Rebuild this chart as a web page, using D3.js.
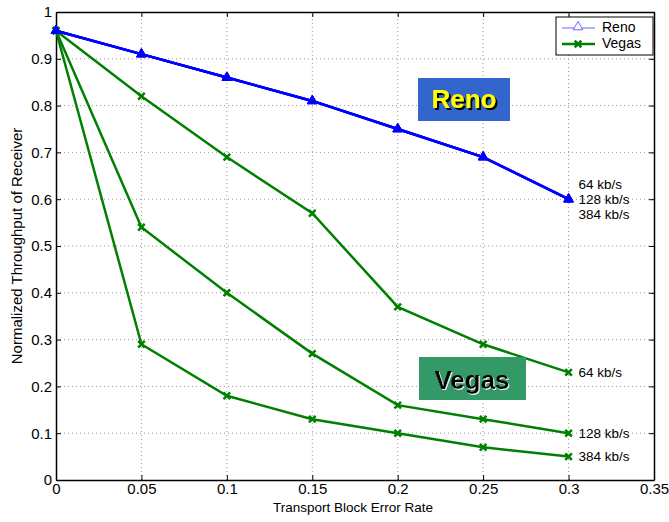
<!DOCTYPE html>
<html><head><meta charset="utf-8">
<script src="https://cdn.jsdelivr.net/npm/d3@7"></script>
<style>body{margin:0;background:#fff}svg{display:block}text{font-family:Arial,"Liberation Sans",sans-serif}</style>
</head><body>
<script>
const xValues = [0, 0.05, 0.1, 0.15, 0.2, 0.25, 0.3];
const reno64 = [0.96, 0.91, 0.86, 0.81, 0.75, 0.69, 0.60];
const reno128 = [0.96, 0.91, 0.86, 0.81, 0.75, 0.69, 0.60];
const reno384 = [0.96, 0.91, 0.86, 0.81, 0.75, 0.69, 0.60];
const vegas64 = [0.96, 0.82, 0.69, 0.57, 0.37, 0.29, 0.23];
const vegas128 = [0.96, 0.54, 0.40, 0.27, 0.16, 0.13, 0.10];
const vegas384 = [0.96, 0.29, 0.18, 0.13, 0.10, 0.07, 0.05];
const xTicks = [0, 0.05, 0.1, 0.15, 0.2, 0.25, 0.3, 0.35];
const yTicks = [0, 0.1, 0.2, 0.3, 0.4, 0.5, 0.6, 0.7, 0.8, 0.9, 1];
const rateLabels = ["64 kb/s", "128 kb/s", "384 kb/s"];

const W = 669, H = 522;
const m = {left: 56, right: 15, top: 12, bottom: 42};
const svg = d3.select("body").append("svg").attr("width", W).attr("height", H);
const defs = svg.append("defs");
defs.append("filter").attr("id", "shadow").attr("x", "-10%").attr("y", "-10%").attr("width", "130%").attr("height", "130%")
  .append("feDropShadow").attr("dx", 2).attr("dy", 2).attr("stdDeviation", 0.3).attr("flood-color", "#000").attr("flood-opacity", 1);
defs.append("filter").attr("id", "shadowW").attr("x", "-10%").attr("y", "-10%").attr("width", "130%").attr("height", "130%")
  .append("feDropShadow").attr("dx", 1).attr("dy", 1).attr("stdDeviation", 0.3).attr("flood-color", "#fff").attr("flood-opacity", 0.9);

const x = d3.scaleLinear().domain([0, 0.35]).range([m.left, W - m.right]);
const y = d3.scaleLinear().domain([0, 1]).range([H - m.bottom, m.top]);

// grid
const g = svg.append("g");
g.selectAll(".gx").data(xTicks.slice(1, -1)).enter().append("line")
  .attr("x1", d => x(d)).attr("x2", d => x(d)).attr("y1", y(0)).attr("y2", y(1))
  .attr("stroke", "#999").attr("stroke-dasharray", "1,3");
g.selectAll(".gy").data(yTicks.slice(1, -1)).enter().append("line")
  .attr("y1", d => y(d)).attr("y2", d => y(d)).attr("x1", x(0)).attr("x2", x(0.35))
  .attr("stroke", "#999").attr("stroke-dasharray", "1,3");

// axes
const fmt = d => d3.format("~g")(d);
const ax = svg.append("g").attr("transform", `translate(0,${y(0)})`)
  .call(d3.axisBottom(x).tickValues(xTicks).tickFormat(fmt).tickSizeInner(-5).tickSizeOuter(0).tickPadding(3));
const ay = svg.append("g").attr("transform", `translate(${x(0)},0)`)
  .call(d3.axisLeft(y).tickValues(yTicks).tickFormat(fmt).tickSizeInner(-5).tickSizeOuter(0).tickPadding(4));
const axTop = svg.append("g").attr("transform", `translate(0,${y(1)})`)
  .call(d3.axisTop(x).tickValues(xTicks).tickFormat("").tickSizeInner(-5).tickSizeOuter(0));
const ayR = svg.append("g").attr("transform", `translate(${x(0.35)},0)`)
  .call(d3.axisRight(y).tickValues(yTicks).tickFormat("").tickSizeInner(-5).tickSizeOuter(0));
[ax, ay, axTop, ayR].forEach(a => {
  a.selectAll("path").attr("stroke", "#000").attr("stroke-width", 1.5);
  a.selectAll("line").attr("stroke", "#000");
  a.selectAll("text").attr("font-size", 15).attr("fill", "#000");
});

svg.append("text").attr("x", 353).attr("y", 512)
  .attr("text-anchor", "middle").attr("font-size", 13.5).text("Transport Block Error Rate");
svg.append("text").attr("transform", `translate(22,${(y(0) + y(1)) / 2}) rotate(-90)`)
  .attr("text-anchor", "middle").attr("font-size", 15).text("Normalized Throughput of Receiver");

const line = d3.line().x((d, i) => x(xValues[i])).y(d => y(d));
const blue = "#0000ff", green = "#008000";

function drawVegas(vals) {
  svg.append("path").datum(vals).attr("d", line).attr("fill", "none")
    .attr("stroke", green).attr("stroke-width", 2.5);
  svg.append("g").selectAll("path").data(vals).enter().append("path")
    .attr("d", d3.symbol(d3.symbolX, 30)())
    .attr("transform", (d, i) => `translate(${x(xValues[i])},${y(d)})`)
    .attr("fill", "none").attr("stroke", green).attr("stroke-width", 2.5);
}
function drawReno(vals) {
  svg.append("path").datum(vals).attr("d", line).attr("fill", "none")
    .attr("stroke", blue).attr("stroke-width", 2.5);
  svg.append("g").selectAll("path").data(vals).enter().append("path")
    .attr("d", d3.symbol(d3.symbolTriangle, 40)())
    .attr("transform", (d, i) => `translate(${x(xValues[i])},${y(d)})`)
    .attr("fill", blue).attr("stroke", blue).attr("stroke-width", 1);
}
[vegas64, vegas128, vegas384].forEach(drawVegas);
[reno64, reno128, reno384].forEach(drawReno);

// rate labels
const lastX = xValues[xValues.length - 1];
rateLabels.forEach((t, i) => {
  svg.append("text").attr("x", x(lastX) + 10).attr("y", y(reno64[6]) - 14 + i * 15)
    .attr("font-size", 13.5).attr("dominant-baseline", "middle").text(t);
});
[vegas64, vegas128, vegas384].forEach((v, i) => {
  svg.append("text").attr("x", x(lastX) + 10).attr("y", y(v[6]) + 1)
    .attr("font-size", 13.5).attr("dominant-baseline", "middle").text(rateLabels[i]);
});

// Reno / Vegas labels
svg.append("rect").attr("x", 418).attr("y", 78).attr("width", 92).attr("height", 43).attr("fill", "#3366cc");
svg.append("text").attr("x", 464).attr("y", 108).attr("text-anchor", "middle").attr("filter", "url(#shadow)")
  .attr("font-size", 26).attr("font-weight", "bold").attr("fill", "#ffff00").text("Reno");
svg.append("rect").attr("x", 419).attr("y", 357).attr("width", 107).attr("height", 43).attr("fill", "#339966");
svg.append("text").attr("x", 472).attr("y", 389).attr("text-anchor", "middle").attr("filter", "url(#shadowW)")
  .attr("font-size", 26).attr("font-weight", "bold").attr("fill", "#000").text("Vegas");

// legend
const lg = svg.append("g").attr("transform", "translate(556,17)");
lg.append("rect").attr("width", 97).attr("height", 38).attr("fill", "#fff").attr("stroke", "#000");
lg.append("line").attr("x1", 6).attr("x2", 39).attr("y1", 11).attr("y2", 11).attr("stroke", "#6666ff").attr("stroke-width", 1);
lg.append("path").attr("d", d3.symbol(d3.symbolTriangle, 40)()).attr("transform", "translate(22,10)")
  .attr("fill", "#fff").attr("stroke", "#6666ff");
lg.append("text").attr("x", 46).attr("y", 11).attr("dominant-baseline", "middle").attr("font-size", 14).text("Reno");
lg.append("line").attr("x1", 6).attr("x2", 39).attr("y1", 27).attr("y2", 27).attr("stroke", green).attr("stroke-width", 2.5);
lg.append("path").attr("d", d3.symbol(d3.symbolX, 30)()).attr("transform", "translate(22,27)")
  .attr("fill", "none").attr("stroke", green).attr("stroke-width", 2.5);
lg.append("text").attr("x", 46).attr("y", 27).attr("dominant-baseline", "middle").attr("font-size", 14).text("Vegas");
</script>
</body></html>
